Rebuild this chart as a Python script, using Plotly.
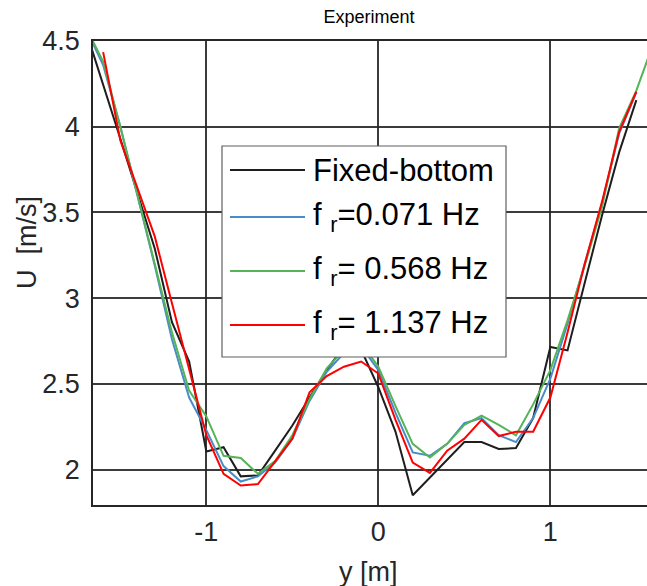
import plotly.graph_objects as go

# Lateral positions across the channel [m]
y_pos = [-1.7, -1.6, -1.5, -1.4, -1.3, -1.2, -1.1, -1.0, -0.9, -0.8, -0.7, -0.6,
         -0.5, -0.4, -0.3, -0.2, -0.1, 0.0, 0.1, 0.2, 0.3, 0.4, 0.5, 0.6,
         0.7, 0.8, 0.9, 1.0, 1.1, 1.2, 1.3, 1.4, 1.5, 1.6]

# Streamwise velocity U [m/s] for each case
u_fixed = [4.56, 4.25, 3.93, 3.61, 3.29, 2.86, 2.63, 2.105, 2.13, 1.96, 1.965, 2.11,
           2.257, 2.42, 2.58, 2.72, 2.70, 2.48, 2.22, 1.85, 1.955, 2.06, 2.16, 2.16,
           2.12, 2.125, 2.30, 2.715, 2.695, 3.09, 3.48, 3.85, 4.155, None]
u_f0071 = [4.57, 4.36, 4.00, 3.60, 3.19, 2.76, 2.42, 2.23, 2.02, 1.93, 1.96, 2.04,
           2.18, 2.40, 2.57, 2.68, 2.72, 2.58, 2.33, 2.10, 2.08, 2.15, 2.27, 2.30,
           2.20, 2.16, 2.30, 2.53, 2.85, 3.20, 3.55, 3.96, 4.20, None]
u_f0568 = [4.58, 4.38, 4.00, 3.60, 3.20, 2.80, 2.46, 2.31, 2.08, 2.067, 1.975, 2.05,
           2.20, 2.41, 2.59, 2.70, 2.74, 2.60, 2.37, 2.15, 2.07, 2.15, 2.26, 2.315,
           2.26, 2.20, 2.38, 2.58, 2.87, 3.19, 3.53, 3.99, 4.21, 4.49]
u_f1137 = [None, 4.435, 3.92, 3.64, 3.36, 2.97, 2.58, 2.20, 1.975, 1.907, 1.915, 2.05,
           2.18, 2.45, 2.545, 2.60, 2.63, 2.56, 2.29, 2.04, 1.98, 2.11, 2.18, 2.29,
           2.195, 2.22, 2.22, 2.42, 2.80, 3.20, 3.56, 3.97, 4.205, None]

series_names = ["Fixed-bottom", "f <sub>r</sub>=0.071 Hz",
                "f <sub>r</sub>= 0.568 Hz", "f <sub>r</sub>= 1.137 Hz"]
series_values = [u_fixed, u_f0071, u_f0568, u_f1137]
series_colors = ["#1e1e1e", "#4a8cc8", "#55b455", "#ff0000"]

x_ticks = [-1, 0, 1]
x_tick_text = ["-1", "0", "1"]
y_ticks = [2, 2.5, 3, 3.5, 4, 4.5]
y_tick_text = ["2", "2.5", "3", "3.5", "4", "4.5"]

W, H = 647, 586
L, R, T, B = 93, 0, 41, 81
FONT = "Liberation Sans, Arial, Helvetica, sans-serif"


def px_x(p):
    return (p - L) / (W - L - R)


def px_y(p):
    return (H - B - p) / (H - T - B)


fig = go.Figure()
for name, vals, col in zip(series_names, series_values, series_colors):
    fig.add_trace(go.Scatter(x=y_pos, y=vals, mode="lines", name=name,
                             line=dict(color=col, width=2), showlegend=False))

grid_col = "rgba(38,38,38,0.9)"
fig.update_layout(
    width=W, height=H,
    margin=dict(l=L, r=R, t=T, b=B, pad=0),
    paper_bgcolor="white", plot_bgcolor="white",
    font=dict(family=FONT, color="#262626"),
    title=dict(text="Experiment", x=px_x(369), xref="paper",
               y=1 - 17 / H, yref="container", xanchor="center", yanchor="middle",
               font=dict(size=18, color="#000000", family=FONT)),
    xaxis=dict(range=[-1.659, 1.562], tickvals=x_ticks, ticktext=x_tick_text,
               showgrid=True, gridcolor=grid_col, gridwidth=1.5,
               zeroline=False, showline=True, linecolor="#262626", linewidth=1.5,
               mirror=True, ticks="", tickfont=dict(size=27, color="#262626"),
               ticklabelstandoff=2),
    yaxis=dict(range=[1.793, 4.5], tickvals=y_ticks, ticktext=y_tick_text,
               showgrid=True, gridcolor=grid_col, gridwidth=1.5,
               zeroline=False, showline=True, linecolor="#262626", linewidth=1.5,
               ticks="", tickfont=dict(size=27, color="#262626"),
               ticklabelstandoff=6),
)

# Axis labels
fig.add_annotation(text="U  [m/s]", x=px_x(27), y=px_y(243), xref="paper", yref="paper",
                   textangle=-90, showarrow=False, xanchor="center", yanchor="middle",
                   font=dict(size=27, color="#262626", family=FONT))
fig.add_annotation(text="y [m]", x=px_x(368), y=px_y(572), xref="paper", yref="paper",
                   showarrow=False, xanchor="center", yanchor="middle",
                   font=dict(size=27, color="#262626", family=FONT))

# Legend box drawn over the curves
box = dict(x0=222, x1=506, y0=146, y1=357)
fig.add_shape(type="rect", xref="paper", yref="paper",
              x0=px_x(box["x0"]), x1=px_x(box["x1"]),
              y0=px_y(box["y1"]), y1=px_y(box["y0"]),
              fillcolor="white", line=dict(color="#5f5f5f", width=1.2), layer="above")
row_y = [170, 217, 271, 325]
for name, col, ry in zip(series_names, series_colors, row_y):
    fig.add_shape(type="line", xref="paper", yref="paper",
                  x0=px_x(230), x1=px_x(305), y0=px_y(ry), y1=px_y(ry),
                  line=dict(color=col, width=2), layer="above")
    fig.add_annotation(text=name, x=px_x(311), y=px_y(ry), xref="paper", yref="paper",
                       showarrow=False, xanchor="left", yanchor="middle",
                       font=dict(size=31, color="#000000", family=FONT))

fig.write_html("out.html")
